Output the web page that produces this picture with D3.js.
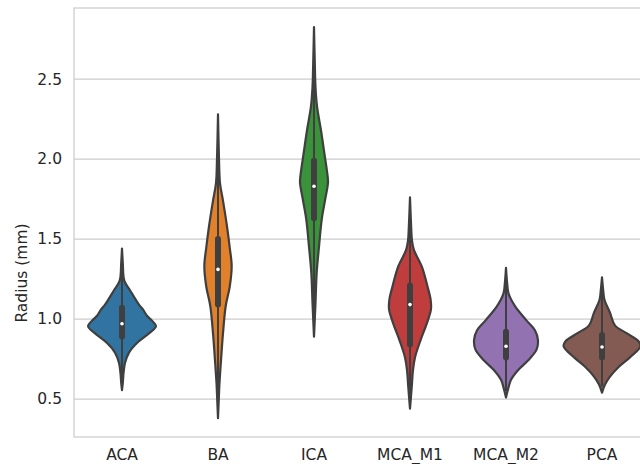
<!DOCTYPE html>
<html>
<head>
<meta charset="utf-8">
<script src="https://cdn.jsdelivr.net/npm/d3@7"></script>
<style>
  body { margin: 0; background: #fff; }
  text { font-family: "DejaVu Sans", sans-serif; fill: #262626; }
</style>
</head>
<body>
<div id="violin"></div>
<script>

// categories along the x axis
var categories = ["ACA", "BA", "ICA", "MCA_M1", "MCA_M2", "PCA"];

// kernel density profile of each vessel: radius (mm) and density
var profileRadius = [
  [1.44, 1.35, 1.24, 1.18, 1.09, 1.06, 1.02, 0.99, 0.955, 0.91, 0.85, 0.79, 0.725, 0.66, 0.60, 0.556],
  [2.28, 2.0, 1.85, 1.74, 1.58, 1.45, 1.33, 1.2, 1.08, 0.91, 0.74, 0.6, 0.5, 0.38],
  [2.825, 2.6, 2.45, 2.33, 2.18, 2.04, 1.89, 1.85, 1.74, 1.62, 1.45, 1.29, 1.1, 0.89],
  [1.76, 1.6, 1.49, 1.43, 1.33, 1.2, 1.12, 1.06, 0.97, 0.87, 0.76, 0.68, 0.58, 0.5, 0.44],
  [1.32, 1.22, 1.16, 1.08, 0.99, 0.93, 0.87, 0.81, 0.74, 0.68, 0.62, 0.56, 0.51],
  [1.26, 1.18, 1.12, 1.04, 0.96, 0.91, 0.86, 0.83, 0.76, 0.70, 0.64, 0.59, 0.54]
];
var profileDensity = [
  [0, 0.08, 0.23, 0.8, 1.7, 2.1, 2.5, 3.0, 3.4, 2.7, 1.5, 0.7, 0.3, 0.15, 0.08, 0],
  [0, 0.1, 0.2, 0.5, 0.9, 1.17, 1.37, 1.17, 0.77, 0.5, 0.3, 0.15, 0.08, 0],
  [0, 0.08, 0.15, 0.3, 0.7, 1.03, 1.37, 1.4, 1.1, 0.77, 0.5, 0.27, 0.15, 0],
  [0, 0.1, 0.2, 0.4, 1.17, 1.77, 2.07, 2.1, 1.67, 1.07, 0.5, 0.3, 0.18, 0.08, 0],
  [0, 0.12, 0.25, 0.9, 2.07, 2.9, 3.2, 3.07, 2.2, 1.2, 0.5, 0.2, 0],
  [0, 0.12, 0.25, 0.8, 1.3, 2.5, 3.67, 3.85, 2.8, 1.67, 0.8, 0.3, 0]
];

// box summary of each vessel
var q1 = [0.89, 1.09, 1.63, 0.84, 0.76, 0.76];
var medians = [0.97, 1.31, 1.83, 1.09, 0.83, 0.825];
var q3 = [1.07, 1.50, 1.99, 1.21, 0.92, 0.90];
var whiskerLow = [0.60, 0.44, 0.95, 0.49, 0.55, 0.58];
var whiskerHigh = [1.40, 2.24, 2.78, 1.72, 1.29, 1.22];

var yTicks = [0.5, 1.0, 1.5, 2.0, 2.5];
var colors = ["#3274a1", "#e1812c", "#3a923a", "#c03d3e", "#9372b2", "#845b53"];

// set the dimensions of the graph
var width = 640, height = 464;
var margin = {top: 8, left: 74, bottom: 437, right: 650};
var lineColor = "#3f3f3f";
var fontSize = "15.5px";

var svg = d3.select("#violin").append("svg")
    .attr("width", width)
    .attr("height", height);

// set the ranges
var x = d3.scaleBand()
          .domain(categories)
          .range([margin.left, margin.right])
          .padding(0);
var y = d3.scaleLinear()
          .domain([0.2625, 2.944])
          .range([margin.bottom, margin.top]);

var maxDensity = d3.max(profileDensity, function(d) { return d3.max(d); });
var w = d3.scaleLinear()
          .domain([0, maxDensity])
          .range([0, x.bandwidth() * 0.4]);

// horizontal grid lines
svg.append("g")
    .selectAll("line")
    .data(yTicks)
  .enter().append("line")
    .attr("x1", margin.left)
    .attr("x2", margin.right)
    .attr("y1", function(d) { return y(d); })
    .attr("y2", function(d) { return y(d); })
    .attr("stroke", "#cccccc")
    .attr("stroke-width", 1.25);

// frame of the axes
svg.append("rect")
    .attr("x", margin.left)
    .attr("y", margin.top)
    .attr("width", margin.right - margin.left)
    .attr("height", margin.bottom - margin.top)
    .attr("fill", "none")
    .attr("stroke", "#cccccc")
    .attr("stroke-width", 1.25);

// y axis
var yAxis = d3.axisLeft(y)
    .tickValues(yTicks)
    .tickFormat(d3.format(".1f"))
    .tickSize(0)
    .tickPadding(12);

svg.append("g")
    .attr("transform", "translate(" + margin.left + ",0)")
    .call(yAxis)
    .call(function(g) { g.select(".domain").remove(); })
    .selectAll("text")
    .style("font-size", fontSize)
    .style("font-family", "DejaVu Sans, sans-serif")
    .attr("fill", "#262626");

// x axis
var xAxis = d3.axisBottom(x)
    .tickSize(0)
    .tickPadding(12);

svg.append("g")
    .attr("transform", "translate(0," + margin.bottom + ")")
    .call(xAxis)
    .call(function(g) { g.select(".domain").remove(); })
    .selectAll("text")
    .style("font-size", fontSize)
    .style("font-family", "DejaVu Sans, sans-serif")
    .attr("fill", "#262626");

// y label
svg.append("text")
    .attr("transform", "translate(22,273) rotate(-90)")
    .attr("text-anchor", "middle")
    .attr("dominant-baseline", "central")
    .style("font-size", fontSize)
    .text("Radius (mm)");

// the violins
categories.forEach(function(cat, i) {
  var cx = x(cat) + x.bandwidth() / 2;
  var pts = profileRadius[i].map(function(r, j) { return {r: r, d: profileDensity[i][j]}; });

  var area = d3.area()
      .curve(d3.curveCatmullRom.alpha(0.5))
      .y(function(d) { return y(d.r); })
      .x0(function(d) { return cx - w(d.d); })
      .x1(function(d) { return cx + w(d.d); });

  svg.append("path")
      .datum(pts)
      .attr("d", area)
      .attr("fill", colors[i])
      .attr("stroke", lineColor)
      .attr("stroke-width", 2.2)
      .attr("stroke-linejoin", "round");

  // whisker
  svg.append("line")
      .attr("x1", cx).attr("x2", cx)
      .attr("y1", y(whiskerLow[i]))
      .attr("y2", y(whiskerHigh[i]))
      .attr("stroke", lineColor)
      .attr("stroke-width", 2);

  // box between the quartiles
  svg.append("line")
      .attr("x1", cx).attr("x2", cx)
      .attr("y1", y(q1[i]))
      .attr("y2", y(q3[i]))
      .attr("stroke", lineColor)
      .attr("stroke-width", 6)
      .attr("stroke-linecap", "round");

  // median
  svg.append("circle")
      .attr("cx", cx)
      .attr("cy", y(medians[i]))
      .attr("r", 1.8)
      .attr("fill", "#ffffff");
});

</script>
</body>
</html>
